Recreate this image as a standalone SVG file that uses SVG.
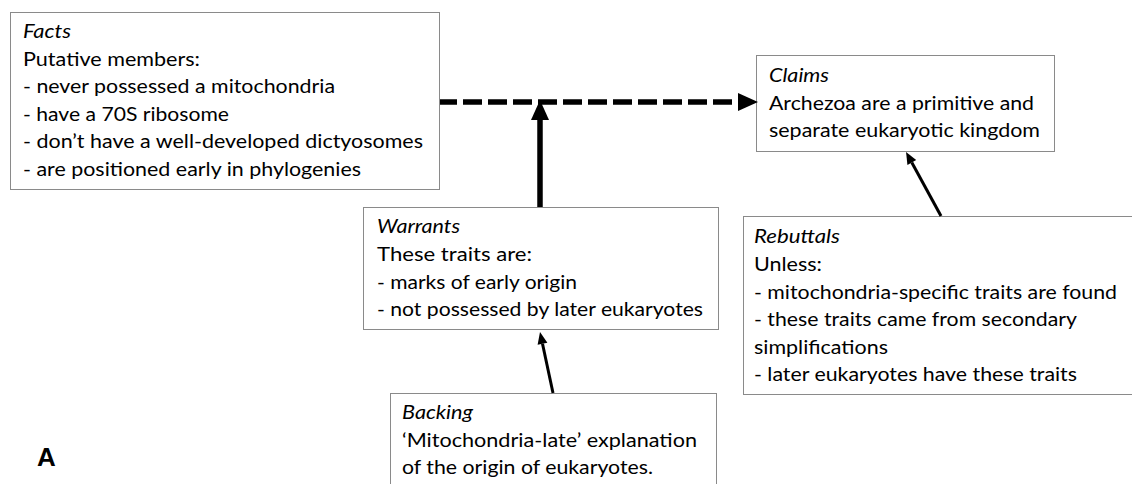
<svg xmlns="http://www.w3.org/2000/svg" width="1132" height="484" viewBox="0 0 1132 484">
<style>
.box{fill:#fff;stroke:#8a8a8a;stroke-width:1}
.t{font-family:Lato,"Liberation Sans",sans-serif;font-size:19.5px;fill:#000}
.h{font-style:italic}
.thick{stroke:#000;stroke-width:5.5;fill:none}
.thin{stroke:#000;stroke-width:3;fill:none}
</style>
<defs>
<marker id="bigHead" markerUnits="userSpaceOnUse" markerWidth="20" markerHeight="18" refX="0" refY="9" orient="auto" overflow="visible"><path d="M0,0 L20,9 L0,18 Z" fill="#000"/></marker>
<marker id="smallHead" markerUnits="userSpaceOnUse" markerWidth="12" markerHeight="10" refX="0" refY="5" orient="auto" overflow="visible"><path d="M0,0 L12,5 L0,10 Z" fill="#000"/></marker>
</defs>
<g id="facts">
<rect class="box" x="10.5" y="12.5" width="429" height="177"/>
<text class="t h" x="23" y="38" textLength="48" lengthAdjust="spacingAndGlyphs">Facts</text>
<text class="t" x="23" y="65.6" textLength="177" lengthAdjust="spacingAndGlyphs">Putative members:</text>
<text class="t" x="23" y="93.2" textLength="312" lengthAdjust="spacingAndGlyphs">- never possessed a mitochondria</text>
<text class="t" x="23" y="120.8" textLength="206" lengthAdjust="spacingAndGlyphs">- have a 70S ribosome</text>
<text class="t" x="23" y="148.4" textLength="400" lengthAdjust="spacingAndGlyphs">- don’t have a well-developed dictyosomes</text>
<text class="t" x="23" y="176" textLength="338" lengthAdjust="spacingAndGlyphs">- are positioned early in phylogenies</text>
</g>
<g id="claims">
<rect class="box" x="756.5" y="55.5" width="298" height="96"/>
<text class="t h" x="769" y="82" textLength="60" lengthAdjust="spacingAndGlyphs">Claims</text>
<text class="t" x="769" y="110" textLength="265" lengthAdjust="spacingAndGlyphs">Archezoa are a primitive and</text>
<text class="t" x="769" y="137" textLength="271" lengthAdjust="spacingAndGlyphs">separate eukaryotic kingdom</text>
</g>
<g id="warrants">
<rect class="box" x="363.5" y="207.5" width="355" height="122"/>
<text class="t h" x="377" y="233" textLength="83" lengthAdjust="spacingAndGlyphs">Warrants</text>
<text class="t" x="377" y="261" textLength="155" lengthAdjust="spacingAndGlyphs">These traits are:</text>
<text class="t" x="377" y="288.5" textLength="200" lengthAdjust="spacingAndGlyphs">- marks of early origin</text>
<text class="t" x="377" y="316" textLength="326" lengthAdjust="spacingAndGlyphs">- not possessed by later eukaryotes</text>
</g>
<g id="rebuttals">
<rect class="box" x="743.5" y="216.5" width="390" height="178"/>
<text class="t h" x="754" y="243" textLength="86" lengthAdjust="spacingAndGlyphs">Rebuttals</text>
<text class="t" x="754" y="271" textLength="68" lengthAdjust="spacingAndGlyphs">Unless:</text>
<text class="t" x="754" y="298.5" textLength="363" lengthAdjust="spacingAndGlyphs">- mitochondria-specific traits are found</text>
<text class="t" x="754" y="326" textLength="323" lengthAdjust="spacingAndGlyphs">- these traits came from secondary</text>
<text class="t" x="754" y="353.5" textLength="134" lengthAdjust="spacingAndGlyphs">simplifications</text>
<text class="t" x="754" y="381" textLength="323" lengthAdjust="spacingAndGlyphs">- later eukaryotes have these traits</text>
</g>
<g id="backing">
<rect class="box" x="390.5" y="393.5" width="326" height="100"/>
<text class="t h" x="402" y="419" textLength="71" lengthAdjust="spacingAndGlyphs">Backing</text>
<text class="t" x="402" y="446.5" textLength="295" lengthAdjust="spacingAndGlyphs">‘Mitochondria-late’ explanation</text>
<text class="t" x="402" y="474" textLength="251" lengthAdjust="spacingAndGlyphs">of the origin of eukaryotes.</text>
</g>
<g id="label">
<text x="37" y="466" font-family="'Liberation Sans',Arial,sans-serif" font-size="26" font-weight="bold" fill="#000">A</text>
</g>
<g id="connectors">
<line class="thick" x1="440" y1="102" x2="738" y2="102" stroke-dasharray="19 6" stroke-dashoffset="2" marker-end="url(#bigHead)"/>
<line class="thick" x1="540" y1="207" x2="540" y2="120" marker-end="url(#bigHead)"/>
<line class="thin" x1="941" y1="216" x2="911.8" y2="162.5" marker-end="url(#smallHead)"/>
<line class="thin" x1="553" y1="393" x2="542.5" y2="343.7" marker-end="url(#smallHead)"/>
</g>
</svg>
